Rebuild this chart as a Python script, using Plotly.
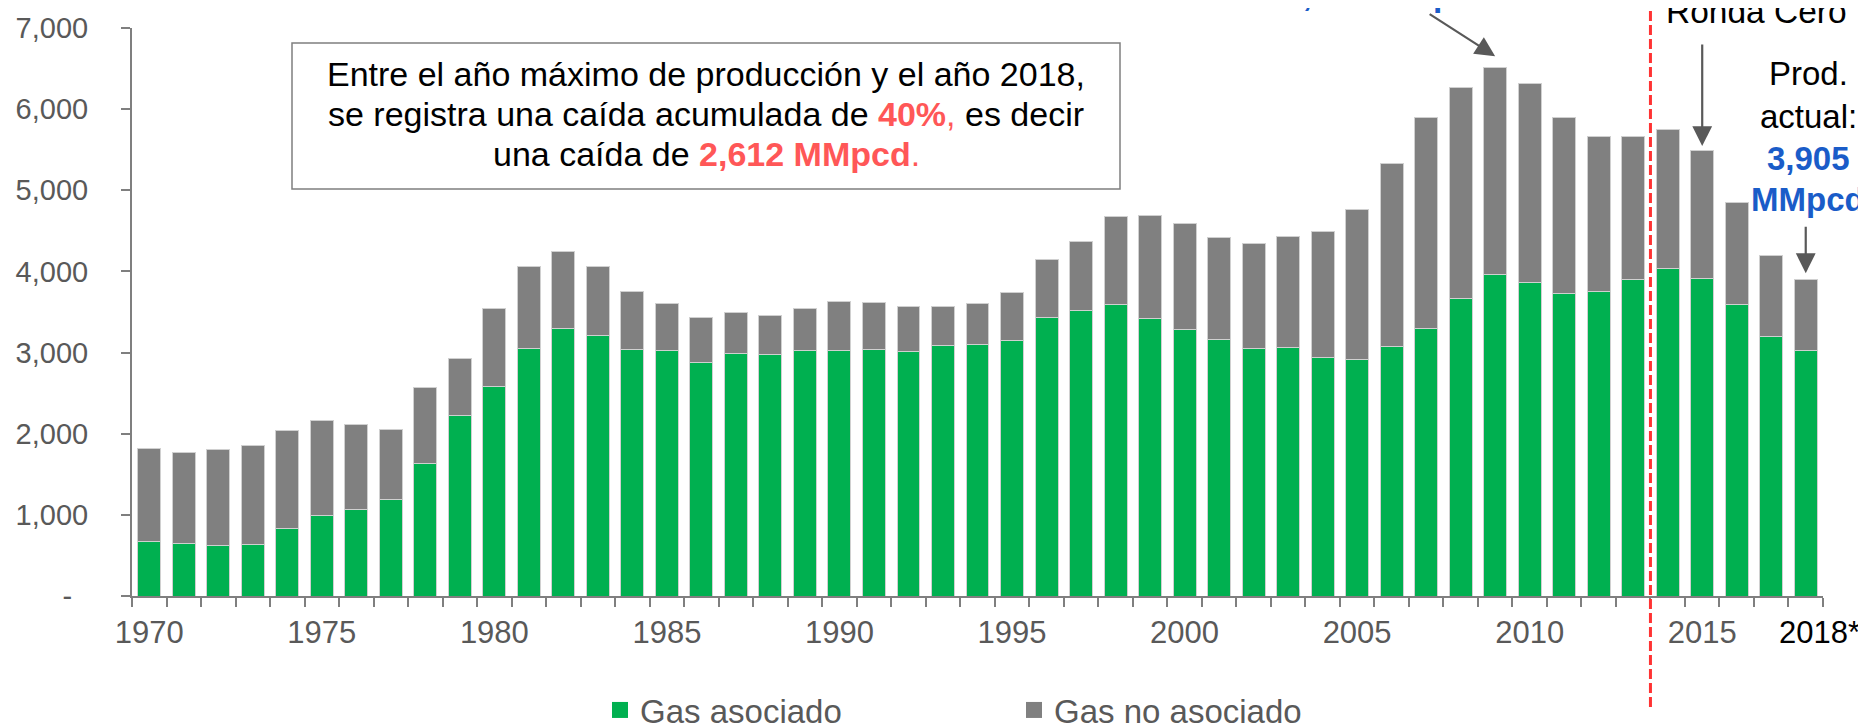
import plotly.graph_objects as go

# ---------------- data ----------------
years = list(range(1970, 2019))
gas_asociado = [669, 645, 624, 632, 835, 992, 1070, 1190, 1628, 2219,
                2583, 3054, 3300, 3210, 3041, 3029, 2880, 2983, 2975, 3025,
                3029, 3037, 3017, 3087, 3099, 3149, 3430, 3521, 3595, 3422,
                3282, 3165, 3050, 3062, 2938, 2917, 3074, 3298, 3665, 3961,
                3862, 3730, 3747, 3899, 4034, 3915, 3595, 3198, 3025]
gas_no_asociado = [1153, 1119, 1182, 1223, 1210, 1169, 1042, 860, 942, 707,
                   966, 1004, 948, 845, 709, 574, 555, 517, 480, 524,
                   603, 582, 545, 475, 504, 589, 715, 842, 1088, 1265,
                   1303, 1259, 1297, 1367, 1557, 1849, 2259, 2598, 2604, 2556,
                   2453, 2170, 1910, 1767, 1714, 1574, 1253, 997, 880]
label_years = [1970, 1975, 1980, 1985, 1990, 1995, 2000, 2005, 2010, 2015, 2018]
label_text = ["1970", "1975", "1980", "1985", "1990", "1995", "2000", "2005",
              "2010", "2015", "<span style='color:#000000'>2018*</span>"]
y_ticks = [0, 1000, 2000, 3000, 4000, 5000, 6000, 7000]
y_text = ["-\u00a0\u00a0", "1,000", "2,000", "3,000", "4,000", "5,000", "6,000", "7,000"]

GREEN = "#00b050"
GRAY = "#808080"
TXT = "#595959"
RED = "#ff5757"
BLUE = "#1a5cc8"
FONT = "Liberation Sans, Arial, sans-serif"

W, H = 1866, 726
L, R, T, B = 124, 51, 20, 138
PW, PH = W - L - R, H - T - B


def px(p):  # pixel x -> paper
    return (p - L) / PW


def py(p):  # pixel y -> paper
    return (H - B - p) / PH


def total(yr):
    i = years.index(yr)
    return gas_asociado[i] + gas_no_asociado[i]


fig = go.Figure()
fig.add_trace(go.Bar(x=years, y=gas_asociado, name="Gas asociado",
                     marker=dict(color=GREEN, line=dict(color="#d0d0d0", width=1)),
                     showlegend=False))
fig.add_trace(go.Bar(x=years, y=gas_no_asociado, name="Gas no asociado",
                     marker=dict(color=GRAY, line=dict(color="#d0d0d0", width=1)),
                     showlegend=False))
# legend entries
fig.add_trace(go.Scatter(x=[None], y=[None], mode="markers", name="Gas asociado",
                         marker=dict(symbol="square", size=18, color=GREEN)))
fig.add_trace(go.Scatter(x=[None], y=[None], mode="markers", name="Gas no asociado",
                         marker=dict(symbol="square", size=18, color=GRAY)))

tickvals = [y + (0.4 if y == 2018 else 0) for y in label_years]

fig.update_layout(
    width=W, height=H,
    barmode="stack", bargap=0.335,
    plot_bgcolor="white", paper_bgcolor="white",
    margin=dict(l=L, r=R, t=T, b=B, autoexpand=False),
    font=dict(family=FONT, color=TXT),
    legend=dict(orientation="h", x=px(592), xanchor="left", y=py(674), yanchor="top",
                traceorder="normal",
                font=dict(size=33, color=TXT, family=FONT),
                entrywidth=369, entrywidthmode="pixels",
                bgcolor="rgba(0,0,0,0)"),
    xaxis=dict(range=[1969.5, 2018.5], tickmode="array", tickvals=tickvals,
               ticktext=label_text, ticks="", showgrid=False, zeroline=False,
               showline=True, linecolor="#7f7f7f", linewidth=2,
               tickfont=dict(size=31, color=TXT, family=FONT),
               ticklabelstandoff=8, automargin=False,
               minor=dict(ticks="outside", tick0=1969.5, dtick=1, ticklen=9,
                          tickcolor="#7f7f7f", tickwidth=2, showgrid=False)),
    yaxis=dict(range=[0, 7000], tickmode="array", tickvals=y_ticks, ticktext=y_text,
               ticks="outside", ticklen=9, tickcolor="#7f7f7f", tickwidth=2,
               showgrid=False, zeroline=False, showline=True, linecolor="#7f7f7f",
               linewidth=2, tickfont=dict(size=29, color=TXT, family=FONT),
               ticklabelstandoff=27, automargin=False),
)

# red dashed vertical line between 2013 and 2014
xsep = (years[43] + years[44]) / 2
fig.add_shape(type="line", xref="x", yref="paper", x0=xsep, x1=xsep,
              y0=py(699), y1=py(-5), line=dict(color="#ff3333", width=3, dash="10px,4px"))

# text box
fig.add_shape(type="rect", xref="paper", yref="paper", x0=px(284), x1=px(1112),
              y0=py(181), y1=py(35), line=dict(color="#7f7f7f", width=1.5),
              fillcolor="white", layer="above")

box_lines = [
    "Entre el año máximo de producción y el año 2018,",
    f"se registra una caída acumulada de <b><span style='color:{RED}'>40%</span></b>"
    f"<span style='color:{RED}'>,</span> es decir",
    f"una caída de <b><span style='color:{RED}'>2,612 MMpcd</span></b><span style='color:{RED}'>.</span>",
]
box_centers = [66, 106, 146.5]
for t, c in zip(box_lines, box_centers):
    fig.add_annotation(text=t, xref="paper", yref="paper", x=px(698), y=py(c),
                       xanchor="center", yanchor="middle", showarrow=False,
                       font=dict(size=34, color="#000000", family=FONT))

# right-side annotation
right_lines = ["Prod.", "actual:", f"<b><span style='color:{BLUE}'>3,905</span></b>",
               f"<b><span style='color:{BLUE}'>MMpcd</span></b>"]
right_centers = [65.4, 108.4, 150.4, 191.4]
for t, c in zip(right_lines, right_centers):
    fig.add_annotation(text=t, xref="paper", yref="paper", x=px(1800), y=py(c),
                       xanchor="center", yanchor="middle", showarrow=False,
                       font=dict(size=33, color="#000000", family=FONT))

# top clipped texts
fig.add_annotation(text="<b>6,517 MMpcd</b>", xref="paper", yref="paper",
                   x=px(1274), y=py(-13.6), xanchor="left", yanchor="middle",
                   showarrow=False, font=dict(size=33.5, color=BLUE, family=FONT))
fig.add_annotation(text="Ronda Cero", xref="paper", yref="paper",
                   x=px(1748), y=py(3.4), xanchor="center", yanchor="middle",
                   showarrow=False, font=dict(size=33.5, color="#000000", family=FONT))

# arrows
ARROW = dict(showarrow=True, arrowhead=2, arrowsize=1.8, arrowwidth=2.2,
             arrowcolor="#595959", text="", axref="pixel", ayref="pixel")
fig.add_annotation(x=2009, y=total(2009), xref="x", yref="y", ax=-67, ay=-43,
                   yshift=11, **ARROW)
fig.add_annotation(x=2015, y=total(2015), xref="x", yref="y", ax=0, ay=-103,
                   yshift=4.6, **ARROW)
fig.add_annotation(x=2018, y=total(2018), xref="x", yref="y", ax=0, ay=-48,
                   yshift=6, **ARROW)

fig.write_html("out.html")
